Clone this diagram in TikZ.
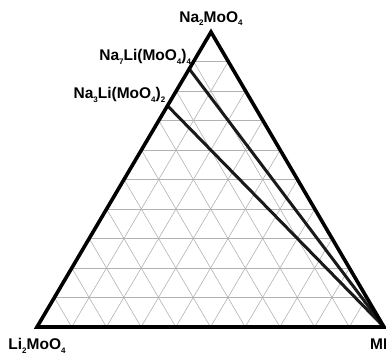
\documentclass[tikz,border=0pt]{standalone}
\usepackage{fontspec}
\setmainfont{Liberation Sans}
\usepackage{xcolor}
\usepackage{tikz}
\usetikzlibrary{positioning,calc}

\newcommand{\chemsub}[1]{\raisebox{-0.45ex}{\fontsize{8}{9}\selectfont #1}}

\tikzset{
    gridline/.style={gray!60, line width=0.6pt},
    edgeline/.style={black, line width=3.6pt, line join=miter},
    tieline/.style={black!90, line width=3pt},
    compound/.style={font=\bfseries\fontsize{15.5}{17}\selectfont, inner sep=1pt}
}

\begin{document}
\begin{tikzpicture}[x=1pt, y=1pt]
    \useasboundingbox (0,0) rectangle (386,356);
    \coordinate (li) at (37,29);
    \coordinate (m) at (384,29);
    \coordinate (na) at (211,324);

    % grid in the triangle
    \foreach \k in {1,...,9} {
        \draw[gridline] ($(li)!\k/10!(na)$) -- ($(m)!\k/10!(na)$);
        \draw[gridline] ($(li)!\k/10!(m)$) -- ($(na)!\k/10!(m)$);
        \draw[gridline] ($(li)!\k/10!(m)$) -- ($(li)!\k/10!(na)$);
    }

    % tie lines
    \coordinate (na7) at ($(li)!0.875!(na)$);
    \coordinate (na3) at ($(li)!0.75!(na)$);
    \draw[tieline] (m) -- (na7);
    \draw[tieline] (m) -- (na3);

    \draw[edgeline] (li) -- (m) -- (na) -- cycle;

    \node[compound, above=5pt of na] (lbl-na) {Na\chemsub{2}MoO\chemsub{4}};
    \node[compound, anchor=south east] (lbl-na7) at ($(na7)+(3,3)$) {Na\chemsub{7}Li(MoO\chemsub{4})\chemsub{4}};
    \node[compound, anchor=south east] (lbl-na3) at ($(na3)+(-1,2)$) {Na\chemsub{3}Li(MoO\chemsub{4})\chemsub{2}};
    \node[compound, below=10pt of li] (lbl-li) {Li\chemsub{2}MoO\chemsub{4}};
    \node[compound, anchor=north west] (lbl-m) at (369,18) {MI};
\end{tikzpicture}
\end{document}
